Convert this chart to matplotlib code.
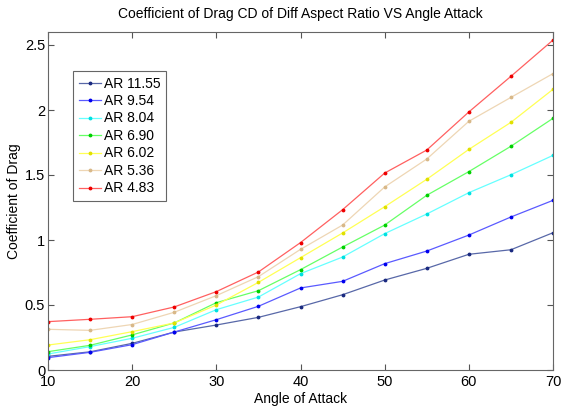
import matplotlib
matplotlib.use("Agg")
import matplotlib.pyplot as plt

plt.rcParams['font.family'] = ['Liberation Sans', 'DejaVu Sans']

angles = [10, 15, 20, 25, 30, 35, 40, 45, 50, 55, 60, 65, 70]
labels = ["AR 11.55", "AR 9.54", "AR 8.04", "AR 6.90", "AR 6.02", "AR 5.36", "AR 4.83"]

ar_11_55 = [0.105, 0.140, 0.205, 0.292, 0.346, 0.405, 0.487, 0.579, 0.692, 0.782, 0.890, 0.925, 1.056]
ar_9_54  = [0.095, 0.136, 0.195, 0.292, 0.387, 0.490, 0.631, 0.682, 0.818, 0.915, 1.038, 1.177, 1.305]
ar_8_04  = [0.123, 0.180, 0.244, 0.328, 0.464, 0.561, 0.741, 0.869, 1.049, 1.200, 1.364, 1.502, 1.651]
ar_6_90  = [0.141, 0.190, 0.270, 0.362, 0.518, 0.610, 0.772, 0.946, 1.115, 1.344, 1.526, 1.721, 1.936]
ar_6_02  = [0.192, 0.233, 0.295, 0.362, 0.500, 0.674, 0.864, 1.054, 1.256, 1.467, 1.697, 1.905, 2.159]
ar_5_36  = [0.313, 0.305, 0.350, 0.444, 0.572, 0.718, 0.928, 1.115, 1.408, 1.623, 1.913, 2.097, 2.280]
ar_4_83  = [0.372, 0.390, 0.410, 0.485, 0.603, 0.754, 0.980, 1.233, 1.515, 1.692, 1.985, 2.259, 2.538]

series = [ar_11_55, ar_9_54, ar_8_04, ar_6_90, ar_6_02, ar_5_36, ar_4_83]
line_colors = ['#5868a8', '#5a5aff', '#66ffff', '#66ff66', '#ffff55', '#eed6b4', '#ff6060']
marker_colors = ['#1a2a80', '#0000ee', '#00e0e0', '#00d000', '#e0e000', '#d8b888', '#ee0000']

fig = plt.figure(figsize=(5.63, 4.08), dpi=100)
ax = fig.add_axes([48/563, 1-370/408, (553-48)/563, (370-32)/408])

for vals, lc, mc, lab in zip(series, line_colors, marker_colors, labels):
    ax.plot(angles, vals, color=lc, lw=0.9, marker='.', markersize=3.5,
            markerfacecolor=mc, markeredgecolor=mc, label=lab)

ax.set_xlim(10, 70)
ax.set_ylim(0, 2.6)
ax.set_xticks([10, 20, 30, 40, 50, 60, 70])
ax.set_yticks([0, 0.5, 1, 1.5, 2, 2.5])
ax.set_yticklabels(["0", "0.5", "1", "1.5", "2", "2.5"])
ax.tick_params(direction='in', top=True, right=True, length=4, width=0.8,
               colors='#555555', labelcolor='black', labelsize=10.5)
ax.tick_params(axis='y', pad=2)
ax.tick_params(axis='x', pad=3.5)
for s in ax.spines.values():
    s.set_color('#666666')
    s.set_linewidth(0.8)

ax.set_title("Coefficient of Drag CD of Diff Aspect Ratio VS Angle Attack", fontsize=10, pad=10)
ax.set_xlabel("Angle of Attack", fontsize=10, labelpad=2)
ax.set_ylabel("Coefficient of Drag", fontsize=10)
ax.yaxis.set_label_coords((14-48)/505, 0.5)
ax.yaxis.label.set_verticalalignment('center')

leg = ax.legend(loc='upper left', bbox_to_anchor=(73/563, 1-71/408),
                bbox_transform=fig.transFigure, fontsize=10, frameon=True,
                fancybox=False, framealpha=1, edgecolor='#666666',
                handlelength=1.6, handletextpad=0.2, labelspacing=0.25,
                borderpad=0.4, borderaxespad=0)
leg.get_frame().set_linewidth(0.8)

fig.savefig("out.png", dpi=100)
